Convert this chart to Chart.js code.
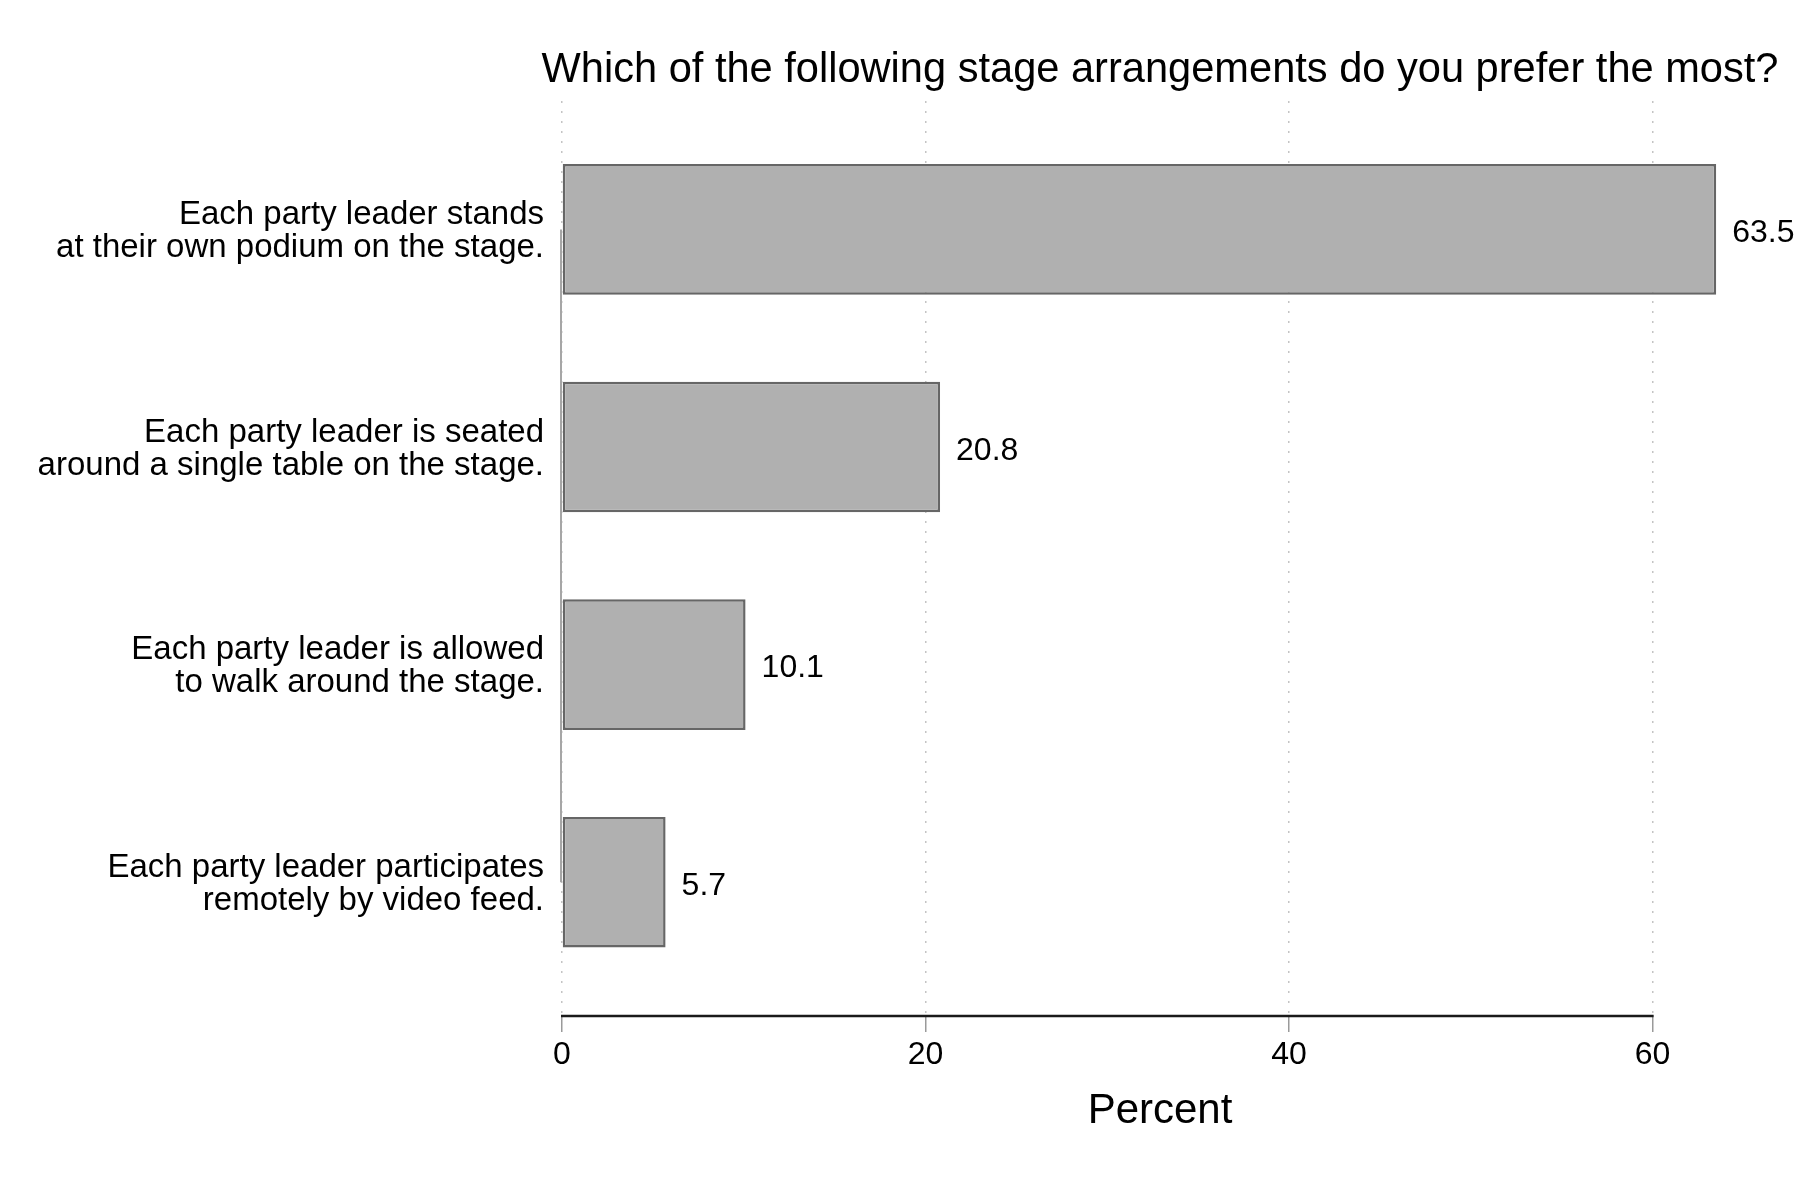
<!DOCTYPE html>
<html>
<head>
<meta charset="utf-8">
<script src="https://cdn.jsdelivr.net/npm/chart.js@4/dist/chart.umd.min.js"></script>
<style>
  html, body { margin: 0; padding: 0; background: #ffffff; }
  #wrap { width: 1797px; height: 1197px; }
</style>
</head>
<body>
<div id="wrap"><canvas id="c" width="1797" height="1197"></canvas></div>
<script>
// ---- data ----
const chartTitle = "Which of the following stage arrangements do you prefer the most?";
const categories = [
  ["Each party leader stands", "at their own podium on the stage."],
  ["Each party leader is seated", "around a single table on the stage."],
  ["Each party leader is allowed", "to walk around the stage."],
  ["Each party leader participates", "remotely by video feed."]
];
const percentValues = [63.5, 20.8, 10.1, 5.7];
const xTickValues = [0, 20, 40, 60];
const xAxisTitle = "Percent";

const FONT = "'Liberation Sans', Arial, Helvetica, sans-serif";

const points = percentValues.map((v, i) => ({ x: v, y: i }));

const decorPlugin = {
  id: 'decor',
  beforeDatasetsDraw(chart) {
    const ctx = chart.ctx;
    const xs = chart.scales.x, ys = chart.scales.y;
    // categorical axis line from first to last category center
    ctx.save();
    ctx.strokeStyle = '#a6a6a6';
    ctx.lineWidth = 2;
    ctx.beginPath();
    const x0 = xs.getPixelForValue(0) - 1;
    ctx.moveTo(x0, ys.getPixelForValue(0));
    ctx.lineTo(x0, ys.getPixelForValue(categories.length - 1));
    ctx.stroke();
    ctx.restore();
  },
  afterDatasetsDraw(chart) {
    const ctx = chart.ctx;
    const meta = chart.getDatasetMeta(0);
    ctx.save();
    ctx.font = "32px " + FONT;
    ctx.fillStyle = '#000';
    ctx.textAlign = 'left';
    ctx.textBaseline = 'middle';
    meta.data.forEach((el, i) => {
      ctx.fillText(percentValues[i].toFixed(1), el.x + 16, el.y + 4);
    });
    ctx.restore();
  },
  afterDraw(chart) {
    const ctx = chart.ctx;
    const xs = chart.scales.x;
    const area = chart.chartArea;
    // x axis line over tick range only
    ctx.save();
    ctx.strokeStyle = '#1a1a1a';
    ctx.lineWidth = 2.5;
    ctx.beginPath();
    ctx.moveTo(xs.getPixelForValue(xTickValues[0]) - 1, area.bottom + 1);
    ctx.lineTo(xs.getPixelForValue(xTickValues[xTickValues.length - 1]) + 1, area.bottom + 1);
    ctx.stroke();
    // title centered over plot area
    ctx.font = "41.6px " + FONT;
    ctx.fillStyle = '#000';
    ctx.textAlign = 'center';
    ctx.textBaseline = 'alphabetic';
    ctx.fillText(chartTitle, (area.left + area.right) / 2, 82);
    ctx.restore();
  }
};

new Chart(document.getElementById('c'), {
  type: 'bar',
  data: {
    datasets: [{
      data: points,
      backgroundColor: '#b0b0b0',
      borderColor: '#666666',
      borderWidth: 2.5,
      borderSkipped: false,
      barPercentage: 0.6,
      categoryPercentage: 1.0
    }]
  },
  options: {
    indexAxis: 'y',
    responsive: false,
    devicePixelRatio: 1,
    animation: false,
    layout: { padding: { top: 101, right: 39, bottom: 0, left: 0 } },
    plugins: {
      legend: { display: false },
      tooltip: { enabled: false },
      title: { display: false }
    },
    scales: {
      x: {
        type: 'linear',
        position: 'bottom',
        min: 0,
        max: 65.8,
        afterBuildTicks(scale) { scale.ticks = xTickValues.map(v => ({ value: v })); },
        afterFit(scale) { scale.height = 182; },
        ticks: {
          font: { family: FONT, size: 32, lineHeight: 1.2 },
          color: '#000',
          padding: 4,
          maxRotation: 0,
          callback: (v) => String(v)
        },
        grid: {
          display: true,
          drawOnChartArea: true,
          drawTicks: true,
          tickLength: 17,
          color: '#c4c4c4',
          lineWidth: 1.5,
          tickColor: '#9a9a9a',
          tickWidth: 1.5,
          tickBorderDash: []
        },
        border: { display: false, dash: [2, 8] },
        title: {
          display: true,
          text: xAxisTitle,
          font: { family: FONT, size: 42, lineHeight: 1.0 },
          color: '#000',
          padding: { top: 0, bottom: 65 }
        }
      },
      y: {
        type: 'linear',
        offset: false,
        reverse: true,
        min: -0.59,
        max: 3.61,
        afterBuildTicks(scale) { scale.ticks = categories.map((c, i) => ({ value: i })); },
        afterFit(scale) { scale.width = 562; },
        ticks: {
          font: { family: FONT, size: 33, lineHeight: 1.0 },
          color: '#000',
          padding: 18,
          labelOffset: 2,
          crossAlign: 'near',
          callback: (v) => categories[v]
        },
        grid: { display: false, drawTicks: false, offset: false },
        border: { display: false }
      }
    }
  },
  plugins: [decorPlugin]
});
</script>
</body>
</html>
